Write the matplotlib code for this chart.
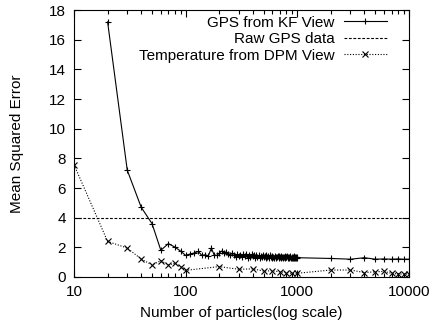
import matplotlib
matplotlib.use("Agg")
import matplotlib.pyplot as plt
from matplotlib.ticker import LogLocator, NullFormatter, MultipleLocator

# data
kf_x = [20, 30, 40, 50, 60, 70, 80, 90, 100] + list(range(110, 1001, 10)) + list(range(2000, 10001, 1000))
kf_y = [17.2, 7.2, 4.7, 3.6, 1.8, 2.25, 2.02, 1.75, 1.46,
        # 110 .. 1000
        1.55, 1.62, 1.72, 1.45, 1.5, 1.42, 1.95, 1.5, 1.45, 1.6,
        1.75, 1.62, 1.66, 1.55, 1.5, 1.6, 1.45, 1.38, 1.52, 1.42,
        1.47, 1.36, 1.52, 1.4, 1.56, 1.3, 1.46, 1.35, 1.52, 1.4,
        1.48, 1.3, 1.5, 1.36, 1.45, 1.28, 1.44, 1.34, 1.5, 1.32,
        1.42, 1.28, 1.46, 1.33, 1.4, 1.3, 1.45, 1.36, 1.3, 1.42,
        1.34, 1.28, 1.44, 1.3, 1.38, 1.32, 1.4, 1.28, 1.42, 1.33,
        1.3, 1.4, 1.34, 1.28, 1.38, 1.32, 1.42, 1.3, 1.36, 1.33,
        1.4, 1.3, 1.36, 1.28, 1.38, 1.32, 1.4, 1.3, 1.35, 1.3,
        1.37, 1.28, 1.4, 1.31, 1.36, 1.27, 1.38, 1.3, 1.34, 1.3,
        # 2000 .. 10000
        1.25, 1.2, 1.3, 1.2, 1.22, 1.2, 1.22, 1.2, 1.2]
raw_gps = 4.0
dpm_x = [10, 20, 30, 40, 50, 60, 70, 80, 90, 100,
         200, 300, 400, 500, 600, 700, 800, 900, 1000,
         2000, 3000, 4000, 5000, 6000, 7000, 8000, 9000, 10000]
dpm_y = [7.57, 2.4, 1.95, 1.21, 0.81, 1.1, 0.81, 0.92, 0.7, 0.45,
         0.7, 0.52, 0.55, 0.4, 0.42, 0.35, 0.3, 0.25, 0.25,
         0.47, 0.47, 0.3, 0.35, 0.38, 0.25, 0.2, 0.2, 0.2]

plt.rcParams['font.family'] = ['Liberation Sans', 'DejaVu Sans']
plt.rcParams['font.size'] = 11

fig = plt.figure(figsize=(4.29, 3.25), dpi=100)
ax = fig.add_axes([0.1725, 0.1477, 0.7805, 0.8215])

ax.plot(kf_x, kf_y, color="black", lw=0.8, marker="+", ms=4, mew=0.8,
        label="GPS from KF View")
ax.axhline(raw_gps, color="black", lw=0.8, ls=(0, (2.5, 1.5)), label="Raw GPS data")
ax.plot(dpm_x, dpm_y, color="black", lw=0.8, ls=(0, (1, 1.5)), marker="x", ms=4,
        mew=0.8, label="Temperature from DPM View")

ax.set_xscale("log")
ax.set_xlim(10, 10000)
ax.set_ylim(0, 18)
ax.yaxis.set_major_locator(MultipleLocator(2))
ax.xaxis.set_major_locator(LogLocator(base=10))
ax.xaxis.set_minor_locator(LogLocator(base=10, subs=range(2, 10)))
ax.xaxis.set_minor_formatter(NullFormatter())
ax.set_xticks([10, 100, 1000, 10000], ["10", "100", "1000", "10000"])
ax.tick_params(which="both", direction="in", top=True, right=True, width=0.8)
ax.tick_params(which="major", length=5, pad=6)
ax.tick_params(which="minor", length=3)
for s in ax.spines.values():
    s.set_linewidth(0.8)

ax.set_xlabel("Number of particles(log scale)", labelpad=5)
ax.set_ylabel("Mean Squared Error", labelpad=18)

ax.legend(loc="upper right", bbox_to_anchor=(0.943, 0.99), frameon=False,
          markerfirst=False, handlelength=2.8, handletextpad=0.6,
          labelspacing=0.16, borderpad=0.2, borderaxespad=0)

fig.savefig("out.png", dpi=100)
